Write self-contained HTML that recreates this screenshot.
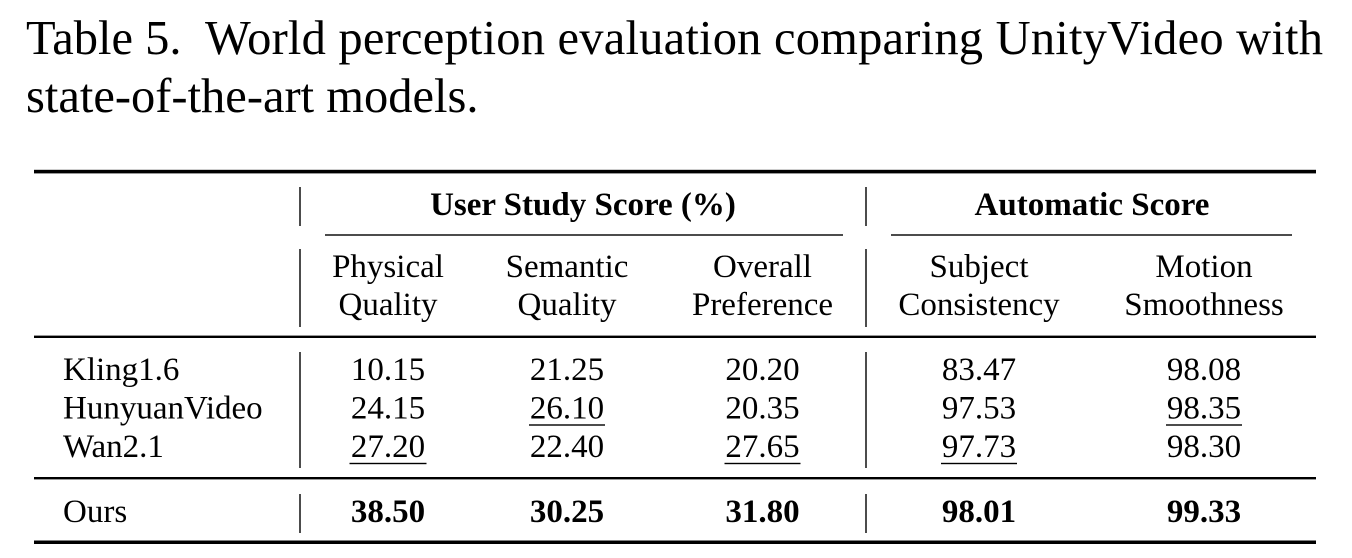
<!DOCTYPE html>
<html>
<head>
<meta charset="utf-8">
<style>
  html, body { margin: 0; padding: 0; background: #ffffff; }
  body { width: 1352px; height: 558px; overflow: hidden; }
  svg { display: block; }
  text { font-family: "Liberation Serif", "Times New Roman", serif; fill: #000; }
  .cap { font-size: 48.5px; }
  .t { font-size: 33px; }
  .b { font-weight: bold; }
</style>
</head>
<body>
<svg width="1352" height="558" viewBox="0 0 1352 558" xmlns="http://www.w3.org/2000/svg">
  <rect x="0" y="0" width="1352" height="558" fill="#ffffff"/>

  <!-- Caption -->
  <text class="cap" x="26" y="54">Table 5.</text>
  <text class="cap" x="205" y="54" textLength="1118" lengthAdjust="spacing">World perception evaluation comparing UnityVideo with</text>
  <text class="cap" x="26" y="112">state-of-the-art models.</text>

  <!-- Rules -->
  <rect x="34" y="169.8" width="1282" height="3.6" fill="#000"/>
  <rect x="325" y="234.3" width="518" height="1.4" fill="#000"/>
  <rect x="891" y="234.3" width="401" height="1.4" fill="#000"/>
  <rect x="34" y="335.6" width="1282" height="2.4" fill="#000"/>
  <rect x="34" y="477" width="1282" height="2.4" fill="#000"/>
  <rect x="34" y="540.5" width="1282" height="3.5" fill="#000"/>

  <!-- Vertical bars -->
  <g fill="#000">
    <rect x="299.3" y="187" width="1.4" height="39"/>
    <rect x="299.3" y="249" width="1.4" height="78"/>
    <rect x="299.3" y="352" width="1.4" height="116"/>
    <rect x="299.3" y="494" width="1.4" height="39"/>
    <rect x="865.3" y="187" width="1.4" height="39"/>
    <rect x="865.3" y="249" width="1.4" height="78"/>
    <rect x="865.3" y="352" width="1.4" height="116"/>
    <rect x="865.3" y="494" width="1.4" height="39"/>
  </g>

  <!-- Header row 1 -->
  <text class="t b" x="583" y="215" text-anchor="middle">User Study Score (%)</text>
  <text class="t b" x="1092" y="215" text-anchor="middle">Automatic Score</text>

  <!-- Header row 2 -->
  <g class="t" text-anchor="middle">
    <text class="t" x="388" y="277" text-anchor="middle">Physical</text>
    <text class="t" x="388" y="315" text-anchor="middle">Quality</text>
    <text class="t" x="567" y="277" text-anchor="middle">Semantic</text>
    <text class="t" x="567" y="315" text-anchor="middle">Quality</text>
    <text class="t" x="762.5" y="277" text-anchor="middle">Overall</text>
    <text class="t" x="762.5" y="315" text-anchor="middle">Preference</text>
    <text class="t" x="979" y="277" text-anchor="middle">Subject</text>
    <text class="t" x="979" y="315" text-anchor="middle">Consistency</text>
    <text class="t" x="1204" y="277" text-anchor="middle">Motion</text>
    <text class="t" x="1204" y="315" text-anchor="middle">Smoothness</text>
  </g>

  <!-- Row labels -->
  <text class="t" x="63" y="380">Kling1.6</text>
  <text class="t" x="63" y="418.5">HunyuanVideo</text>
  <text class="t" x="63" y="457">Wan2.1</text>
  <text class="t" x="63" y="522">Ours</text>

  <!-- Kling1.6 -->
  <text class="t" x="388" y="380" text-anchor="middle">10.15</text>
  <text class="t" x="567" y="380" text-anchor="middle">21.25</text>
  <text class="t" x="762.5" y="380" text-anchor="middle">20.20</text>
  <text class="t" x="979" y="380" text-anchor="middle">83.47</text>
  <text class="t" x="1204" y="380" text-anchor="middle">98.08</text>

  <!-- HunyuanVideo -->
  <text class="t" x="388" y="418.5" text-anchor="middle">24.15</text>
  <text class="t" x="567" y="418.5" text-anchor="middle">26.10</text>
  <text class="t" x="762.5" y="418.5" text-anchor="middle">20.35</text>
  <text class="t" x="979" y="418.5" text-anchor="middle">97.53</text>
  <text class="t" x="1204" y="418.5" text-anchor="middle">98.35</text>

  <!-- Wan2.1 -->
  <text class="t" x="388" y="457" text-anchor="middle">27.20</text>
  <text class="t" x="567" y="457" text-anchor="middle">22.40</text>
  <text class="t" x="762.5" y="457" text-anchor="middle">27.65</text>
  <text class="t" x="979" y="457" text-anchor="middle">97.73</text>
  <text class="t" x="1204" y="457" text-anchor="middle">98.30</text>

  <!-- Ours -->
  <text class="t b" x="388" y="522" text-anchor="middle">38.50</text>
  <text class="t b" x="567" y="522" text-anchor="middle">30.25</text>
  <text class="t b" x="762.5" y="522" text-anchor="middle">31.80</text>
  <text class="t b" x="979" y="522" text-anchor="middle">98.01</text>
  <text class="t b" x="1204" y="522" text-anchor="middle">99.33</text>

  <!-- Underlines -->
  <g fill="#000">
    <rect x="529" y="424.3" width="76" height="1.4"/>
    <rect x="1166" y="424.3" width="76" height="1.4"/>
    <rect x="349.5" y="462.8" width="77" height="1.4"/>
    <rect x="724.5" y="462.8" width="76" height="1.4"/>
    <rect x="941" y="462.8" width="76" height="1.4"/>
  </g>
</svg>
</body>
</html>
